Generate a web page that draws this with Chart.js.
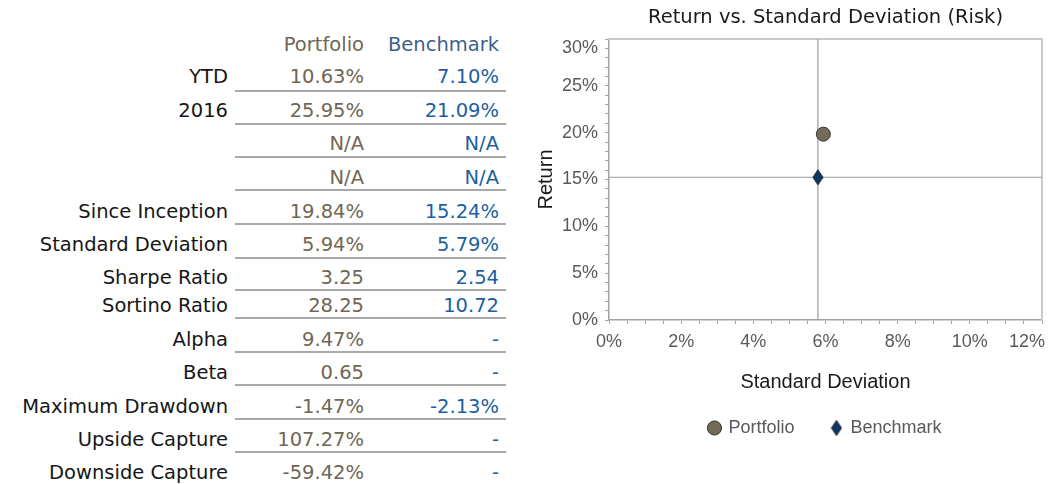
<!DOCTYPE html>
<html>
<head>
<meta charset="utf-8">
<script src="https://cdn.jsdelivr.net/npm/chart.js@4.4.1/dist/chart.umd.min.js"></script>
<style>
  html, body { margin: 0; padding: 0; background: #ffffff; overflow: hidden; width: 1050px; height: 484px; }
  #table { position: absolute; left: 0; top: 0; width: 530px; height: 484px; font-family: "DejaVu Sans", sans-serif; font-size: 19.5px; }
  .cell { position: absolute; white-space: nowrap; text-align: right; height: 24px; line-height: 24px; }
  .rule { position: absolute; left: 235px; width: 271px; height: 2px; background: #a9a9a9; }
  #chartWrap { position: absolute; left: 530px; top: 0; width: 520px; height: 484px; }
</style>
</head>
<body>
<div id="table"></div>
<div id="chartWrap"><canvas id="c" width="520" height="484"></canvas></div>
<script>
// ---- data ----
const columnHeaders = ['Portfolio', 'Benchmark'];
const metricLabels = ['YTD', '2016', '', '', 'Since Inception', 'Standard Deviation', 'Sharpe Ratio', 'Sortino Ratio', 'Alpha', 'Beta', 'Maximum Drawdown', 'Upside Capture', 'Downside Capture'];
const portfolioValues = ['10.63%', '25.95%', 'N/A', 'N/A', '19.84%', '5.94%', '3.25', '28.25', '9.47%', '0.65', '-1.47%', '107.27%', '-59.42%'];
const benchmarkValues = ['7.10%', '21.09%', 'N/A', 'N/A', '15.24%', '5.79%', '2.54', '10.72', '-', '-', '-2.13%', '-', '-'];

const seriesNames = ['Portfolio', 'Benchmark'];
const seriesStdDev = [5.94, 5.79];
const seriesReturn = [19.84, 15.24];

const chartTitle = 'Return vs. Standard Deviation (Risk)';
const xAxisTitle = 'Standard Deviation';
const yAxisTitle = 'Return';

// ---- table layout ----
const headerY = 45;
const rowCenters = [77, 111, 144, 178, 212, 245, 278, 306, 340, 373, 407, 440, 473];
const ruleYs = [91, 124, 157, 190, 224, 258, 290, 318, 352, 385, 419, 452, null];
const colLabelRight = 228, colPortRight = 364, colBenchRight = 499;
const labelColor = '#161616', portColor = '#6f6655', benchColor = '#1c5f9f', benchHeadColor = '#3d5f8c';

const tbl = document.getElementById('table');
function addCell(text, right, cy, color) {
  const d = document.createElement('div');
  d.className = 'cell';
  d.textContent = text;
  d.style.right = (530 - right) + 'px';
  d.style.top = (cy - 12) + 'px';
  d.style.color = color;
  tbl.appendChild(d);
}
addCell(columnHeaders[0], colPortRight, headerY, portColor);
addCell(columnHeaders[1], colBenchRight, headerY, benchHeadColor);
metricLabels.forEach((lab, i) => {
  const cy = rowCenters[i];
  if (lab) addCell(lab, colLabelRight, cy, labelColor);
  addCell(portfolioValues[i], colPortRight, cy, portColor);
  addCell(benchmarkValues[i], colBenchRight, cy, benchColor);
  if (ruleYs[i] !== null) {
    const r = document.createElement('div');
    r.className = 'rule';
    r.style.top = (ruleYs[i] - 1) + 'px';
    tbl.appendChild(r);
  }
});

// ---- chart ----
function makeDiamond(w, h, fill, stroke) {
  const c = document.createElement('canvas');
  c.width = w + 2; c.height = h + 2;
  const g = c.getContext('2d');
  g.beginPath();
  g.moveTo((w + 2) / 2, 1);
  g.lineTo(w + 1, (h + 2) / 2);
  g.lineTo((w + 2) / 2, h + 1);
  g.lineTo(1, (h + 2) / 2);
  g.closePath();
  g.fillStyle = fill; g.fill();
  g.lineWidth = 1; g.strokeStyle = stroke; g.stroke();
  return c;
}
const diamond = makeDiamond(10, 15, '#0b3767', '#1a1a1a');

const tickFont = { family: 'Liberation Sans, Arial, sans-serif', size: 18 };
const axisGray = '#a3a3a3';
const frameGray = '#c9c9c9';

new Chart(document.getElementById('c'), {
  type: 'scatter',
  data: {
    datasets: [
      {
        label: seriesNames[0],
        data: [{ x: seriesStdDev[0], y: seriesReturn[0] }],
        pointStyle: 'circle',
        pointRadius: 7,
        pointHoverRadius: 7,
        backgroundColor: '#736a58',
        borderColor: '#333333',
        borderWidth: 1,
        order: 0
      },
      {
        label: seriesNames[1],
        data: [{ x: seriesStdDev[1], y: seriesReturn[1] }],
        pointStyle: diamond,
        backgroundColor: '#0b3767',
        borderColor: '#1a1a1a',
        borderWidth: 1,
        order: 1
      },
      {
        label: 'vline',
        data: [{ x: seriesStdDev[1], y: 0 }, { x: seriesStdDev[1], y: 30 }],
        showLine: true,
        pointRadius: 0,
        borderColor: '#9b9b9b',
        borderWidth: 1.2,
        order: 5
      },
      {
        label: 'hline',
        data: [{ x: 0, y: seriesReturn[1] }, { x: 12, y: seriesReturn[1] }],
        showLine: true,
        pointRadius: 0,
        borderColor: '#9b9b9b',
        borderWidth: 1.2,
        order: 5
      }
    ]
  },
  options: {
    responsive: false,
    animation: false,
    events: [],
    layout: { padding: { left: 0, right: 7, top: 0, bottom: 37 } },
    plugins: {
      tooltip: { enabled: false },
      title: {
        display: true,
        text: chartTitle,
        fullSize: false,
        color: '#1a1a1a',
        font: { family: 'DejaVu Sans, sans-serif', size: 19.5, weight: 'normal', lineHeight: 1.2 },
        padding: { top: 6, bottom: 9.6 }
      },
      legend: {
        display: true,
        position: 'bottom',
        fullSize: false,
        labels: {
          usePointStyle: true,
          boxWidth: 10,
          boxHeight: 10,
          padding: 37,
          color: '#595959',
          font: { family: 'Liberation Sans, Arial, sans-serif', size: 18 },
          filter: (item) => seriesNames.includes(item.text)
        }
      }
    },
    scales: {
      x: {
        type: 'linear',
        position: 'bottom',
        min: 0, max: 12,
        afterFit: (s) => { s.height = 62; s.paddingLeft = 0; s.paddingRight = 0; },
        ticks: {
          stepSize: 0.5,
          autoSkip: false,
          maxRotation: 0,
          padding: 7,
          color: '#595959',
          font: tickFont,
          callback: (v) => {
            if (v % 2 !== 0) return '';
            if (v === 12) return '12%' + '\u00A0'.repeat(6);
            return v + '%';
          }
        },
        grid: { drawOnChartArea: false, drawTicks: true, tickLength: 4, color: axisGray, tickWidth: 1 },
        border: { display: true, color: axisGray, width: 1.5 },
        title: {
          display: true, text: xAxisTitle, color: '#1a1a1a',
          font: { family: 'Liberation Sans, Arial, sans-serif', size: 20, lineHeight: 1.2 },
          padding: { top: 0, bottom: -12 }
        }
      },
      y: {
        type: 'linear',
        position: 'left',
        min: 0, max: 30,
        afterFit: (s) => { s.width = 79; s.paddingTop = 0; s.paddingBottom = 0; },
        ticks: {
          stepSize: 1,
          autoSkip: false,
          padding: 7,
          color: '#595959',
          font: { family: 'Liberation Sans, Arial, sans-serif', size: 18, lineHeight: 1.0 },
          callback: (v) => {
            if (v % 5 !== 0) return '';
            if (v === 30) return ['', '30%'];
            return v + '%';
          }
        },
        grid: { drawOnChartArea: false, drawTicks: true, tickLength: 4, color: axisGray, tickWidth: 1 },
        border: { display: true, color: axisGray, width: 1.5 },
        title: {
          display: true, text: yAxisTitle, color: '#1a1a1a',
          font: { family: 'Liberation Sans, Arial, sans-serif', size: 20, lineHeight: 1.2 },
          padding: { top: 4, bottom: 0 }
        }
      },
      xTop: {
        type: 'linear', axis: 'x', position: 'top', min: 0, max: 12,
        afterFit: (s) => { s.height = 0; s.paddingLeft = 0; s.paddingRight = 0; },
        ticks: { display: false },
        grid: { drawOnChartArea: false, drawTicks: false },
        border: { display: true, color: frameGray, width: 2 }
      },
      yRight: {
        type: 'linear', axis: 'y', position: 'right', min: 0, max: 30,
        afterFit: (s) => { s.width = 0; s.paddingTop = 0; s.paddingBottom = 0; },
        ticks: { display: false },
        grid: { drawOnChartArea: false, drawTicks: false },
        border: { display: true, color: frameGray, width: 2 }
      }
    }
  }
});
</script>
</body>
</html>
